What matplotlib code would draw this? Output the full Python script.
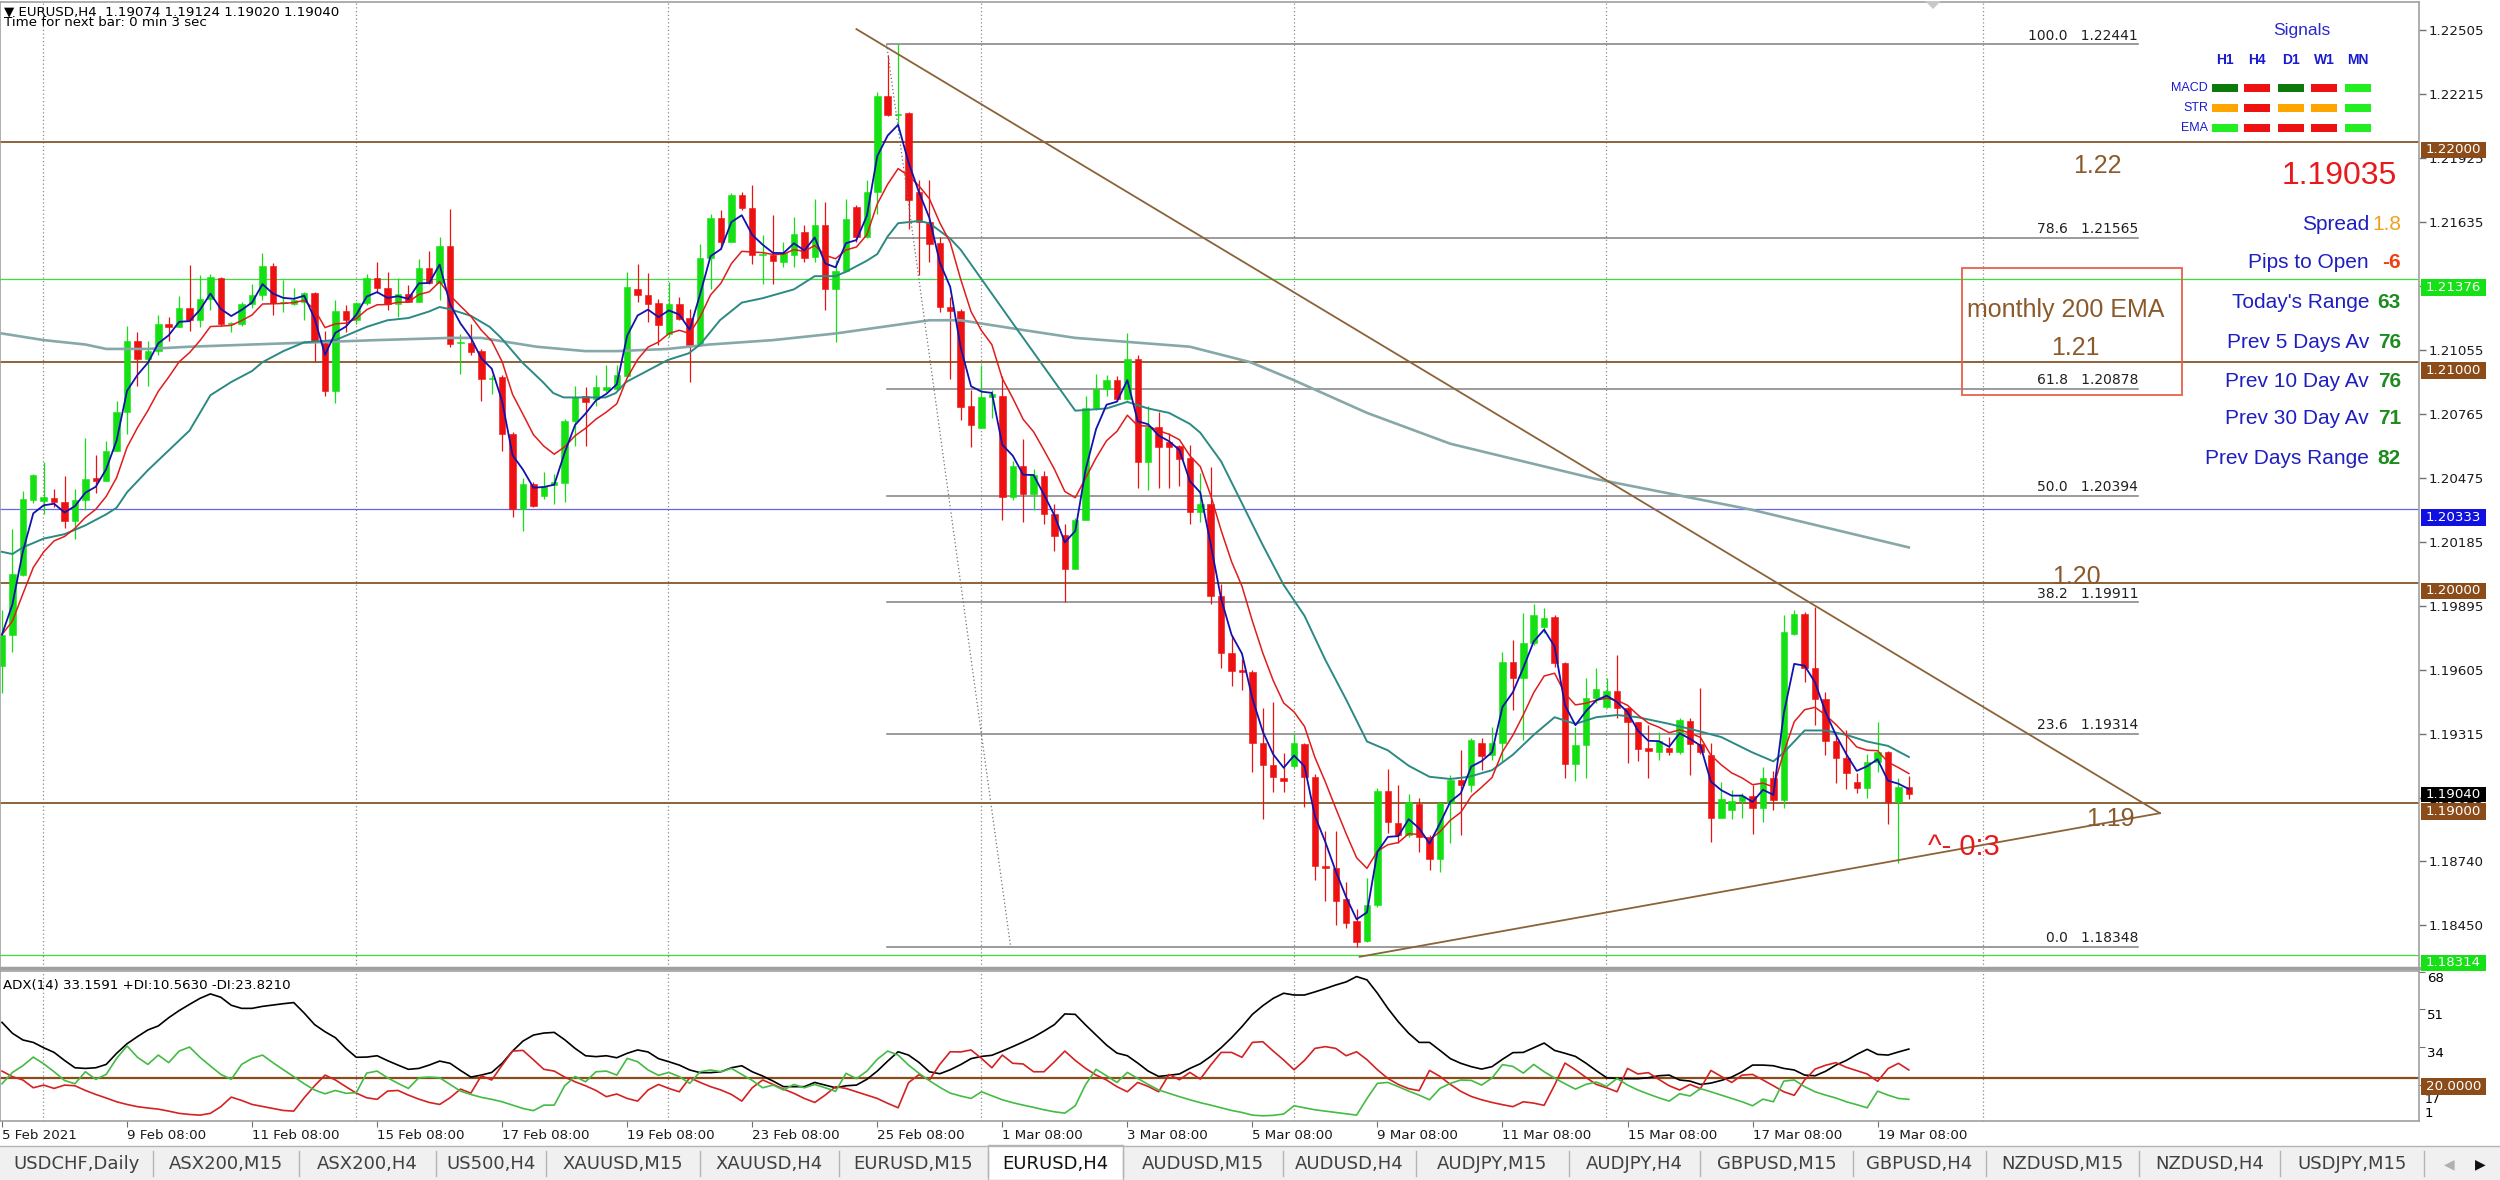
import numpy as np
import pandas as pd
import matplotlib
matplotlib.use("Agg")
import matplotlib.pyplot as plt
import matplotlib.transforms as mtransforms
from matplotlib.patches import Rectangle, Polygon
from matplotlib.lines import Line2D

# ---------------------
# DATA - EURUSD H4 candles (5 Feb 2021 08:00 .. 19 Mar 2021 20:00)
# ---------------------
opens = [
    1.19624, 1.19765, 1.20034, 1.20376, 1.20372, 1.20383, 1.20368, 1.20279, 1.20376, 1.20474,
    1.20462, 1.20595, 1.20775, 1.21095, 1.21014, 1.21052, 1.21174, 1.21158, 1.21244, 1.21189,
    1.21288, 1.21380, 1.21171, 1.21174, 1.21265, 1.21304, 1.21437, 1.21268, 1.21265, 1.21275,
    1.21315, 1.21088, 1.20869, 1.21233, 1.21189, 1.21268, 1.21380, 1.21338, 1.21265, 1.21307,
    1.21275, 1.21427, 1.21361, 1.21526, 1.21088, 1.21088, 1.21049, 1.20924, 1.20932, 1.20674,
    1.20334, 1.20447, 1.20394, 1.20443, 1.20451, 1.20735, 1.20846, 1.20833, 1.20874, 1.20880,
    1.20938, 1.21333, 1.21306, 1.21270, 1.21129, 1.21263, 1.21200, 1.21079, 1.21470, 1.21652,
    1.21545, 1.21758, 1.21700, 1.21488, 1.21488, 1.21455, 1.21485, 1.21589, 1.21477, 1.21624,
    1.21330, 1.21412, 1.21703, 1.21568, 1.21773, 1.22205, 1.22121, 1.22129, 1.21773, 1.21636,
    1.21538, 1.21250, 1.21230, 1.20802, 1.20700, 1.20840, 1.20848, 1.20390, 1.20527, 1.20403,
    1.20483, 1.20310, 1.20218, 1.20060, 1.20286, 1.20792, 1.20880, 1.20917, 1.20835, 1.21015,
    1.20546, 1.20705, 1.20639, 1.20620, 1.20564, 1.20320, 1.20357, 1.19940, 1.19680, 1.19606,
    1.19597, 1.19272, 1.19174, 1.19115, 1.19167, 1.19267, 1.19119, 1.18716, 1.18707, 1.18568,
    1.18466, 1.18375, 1.18537, 1.19054, 1.18911, 1.18855, 1.18996, 1.18846, 1.18748, 1.19000,
    1.19106, 1.19083, 1.19272, 1.19219, 1.19272, 1.19642, 1.19570, 1.19725, 1.19801, 1.19846,
    1.19634, 1.19177, 1.19264, 1.19476, 1.19438, 1.19509, 1.19430, 1.19367, 1.19249, 1.19231,
    1.19252, 1.19231, 1.19373, 1.19267, 1.19220, 1.18935, 1.18970, 1.19010, 1.19035, 1.18980,
    1.19116, 1.19015, 1.19767, 1.19856, 1.19615, 1.19473, 1.19280, 1.19204, 1.19098, 1.19071,
    1.19189, 1.19231, 1.19005, 1.19074,
]
highs = [
    1.19875, 1.20243, 1.20415, 1.20493, 1.20548, 1.20423, 1.20485, 1.20423, 1.20657, 1.20579,
    1.20642, 1.20822, 1.21166, 1.21135, 1.21095, 1.21213, 1.21205, 1.21299, 1.21440, 1.21393,
    1.21401, 1.21385, 1.21182, 1.21275, 1.21354, 1.21495, 1.21448, 1.21374, 1.21338, 1.21318,
    1.21318, 1.21142, 1.21283, 1.21260, 1.21275, 1.21401, 1.21455, 1.21408, 1.21380, 1.21349,
    1.21468, 1.21502, 1.21568, 1.21693, 1.21127, 1.21174, 1.21061, 1.20940, 1.20940, 1.20682,
    1.20477, 1.20455, 1.20500, 1.20493, 1.20743, 1.20894, 1.20886, 1.20940, 1.20985, 1.20985,
    1.21409, 1.21447, 1.21402, 1.21288, 1.21364, 1.21296, 1.21243, 1.21538, 1.21674, 1.21690,
    1.21765, 1.21773, 1.21803, 1.21576, 1.21667, 1.21545, 1.21659, 1.21621, 1.21742, 1.21724,
    1.21462, 1.21742, 1.21712, 1.21826, 1.22227, 1.22394, 1.22441, 1.22136, 1.21826, 1.21826,
    1.21568, 1.21296, 1.21243, 1.20876, 1.20987, 1.20876, 1.20935, 1.20551, 1.20653, 1.20514,
    1.20505, 1.20357, 1.20264, 1.20292, 1.20848, 1.20946, 1.20941, 1.20935, 1.21132, 1.21033,
    1.20802, 1.20774, 1.20681, 1.20624, 1.20624, 1.20496, 1.20524, 1.19995, 1.19764, 1.19652,
    1.19606, 1.19430, 1.19458, 1.19226, 1.19319, 1.19272, 1.19133, 1.18874, 1.18874, 1.18642,
    1.18522, 1.18661, 1.19069, 1.19156, 1.19085, 1.19044, 1.19022, 1.18855, 1.19004, 1.19128,
    1.19242, 1.19295, 1.19295, 1.19347, 1.19687, 1.19740, 1.19861, 1.19902, 1.19884, 1.19853,
    1.19642, 1.19347, 1.19566, 1.19615, 1.19566, 1.19672, 1.19438, 1.19370, 1.19355, 1.19325,
    1.19302, 1.19385, 1.19385, 1.19521, 1.19272, 1.19098, 1.19060, 1.19045, 1.19083, 1.19166,
    1.19147, 1.19853, 1.19876, 1.19869, 1.19891, 1.19506, 1.19317, 1.19332, 1.19136, 1.19222,
    1.19370, 1.19237, 1.19116, 1.19124,
]
lows = [
    1.19500, 1.19687, 1.20031, 1.20360, 1.20313, 1.20344, 1.20250, 1.20196, 1.20329, 1.20407,
    1.20462, 1.20595, 1.20673, 1.20892, 1.20892, 1.21033, 1.21095, 1.21158, 1.21142, 1.21158,
    1.21236, 1.21166, 1.21135, 1.21166, 1.21244, 1.21283, 1.21213, 1.21228, 1.21260, 1.21189,
    1.21002, 1.20845, 1.20814, 1.21135, 1.21174, 1.21260, 1.21315, 1.21236, 1.21205, 1.21272,
    1.21275, 1.21354, 1.21283, 1.21067, 1.20947, 1.21033, 1.20826, 1.20856, 1.20599, 1.20300,
    1.20235, 1.20341, 1.20379, 1.20356, 1.20364, 1.20621, 1.20621, 1.20803, 1.20864, 1.20875,
    1.20932, 1.21273, 1.21182, 1.21076, 1.21114, 1.21189, 1.20909, 1.21076, 1.21333, 1.21515,
    1.21545, 1.21690, 1.21447, 1.21356, 1.21356, 1.21432, 1.21432, 1.21455, 1.21455, 1.21235,
    1.21091, 1.21409, 1.21545, 1.21561, 1.21674, 1.22118, 1.22076, 1.21606, 1.21394, 1.21455,
    1.21227, 1.20924, 1.20737, 1.20616, 1.20700, 1.20746, 1.20283, 1.20375, 1.20273, 1.20330,
    1.20264, 1.20144, 1.19912, 1.20060, 1.20283, 1.20783, 1.20848, 1.20824, 1.20829, 1.20431,
    1.20422, 1.20431, 1.20431, 1.20440, 1.20264, 1.20273, 1.19903, 1.19615, 1.19532, 1.19513,
    1.19143, 1.18930, 1.19050, 1.19050, 1.19161, 1.18985, 1.18651, 1.18559, 1.18448, 1.18433,
    1.18348, 1.18373, 1.18531, 1.18865, 1.18818, 1.18846, 1.18781, 1.18698, 1.18689, 1.18819,
    1.18856, 1.19053, 1.19151, 1.19196, 1.19189, 1.19423, 1.19287, 1.19718, 1.19770, 1.19619,
    1.19113, 1.19101, 1.19113, 1.19453, 1.19430, 1.19385, 1.19181, 1.19192, 1.19113, 1.19196,
    1.19220, 1.19222, 1.19128, 1.19222, 1.18826, 1.18932, 1.18929, 1.18932, 1.18860, 1.18917,
    1.18970, 1.18977, 1.19763, 1.19551, 1.19355, 1.19219, 1.19091, 1.19065, 1.19045, 1.19023,
    1.19143, 1.18905, 1.18730, 1.19020,
]
closes = [
    1.19765, 1.20039, 1.20379, 1.20488, 1.20388, 1.20365, 1.20279, 1.20376, 1.20469, 1.20462,
    1.20595, 1.20775, 1.21095, 1.21014, 1.21052, 1.21174, 1.21158, 1.21244, 1.21189, 1.21288,
    1.21385, 1.21171, 1.21177, 1.21265, 1.21304, 1.21437, 1.21268, 1.21272, 1.21283, 1.21315,
    1.21095, 1.20869, 1.21233, 1.21189, 1.21268, 1.21380, 1.21338, 1.21265, 1.21307, 1.21275,
    1.21427, 1.21361, 1.21526, 1.21083, 1.21088, 1.21045, 1.20924, 1.20924, 1.20674, 1.20334,
    1.20447, 1.20349, 1.20437, 1.20455, 1.20735, 1.20841, 1.20818, 1.20886, 1.20886, 1.20943,
    1.21341, 1.21303, 1.21265, 1.21170, 1.21265, 1.21197, 1.21079, 1.21470, 1.21652, 1.21545,
    1.21758, 1.21697, 1.21488, 1.21488, 1.21458, 1.21494, 1.21583, 1.21474, 1.21624, 1.21330,
    1.21412, 1.21649, 1.21568, 1.21773, 1.22205, 1.22121, 1.22125, 1.21735, 1.21636, 1.21538,
    1.21250, 1.21230, 1.20795, 1.20713, 1.20842, 1.20855, 1.20390, 1.20527, 1.20403, 1.20487,
    1.20310, 1.20212, 1.20060, 1.20286, 1.20792, 1.20880, 1.20917, 1.20835, 1.21015, 1.20546,
    1.20705, 1.20616, 1.20616, 1.20561, 1.20320, 1.20357, 1.19940, 1.19680, 1.19601, 1.19593,
    1.19272, 1.19174, 1.19119, 1.19100, 1.19272, 1.19119, 1.18716, 1.18707, 1.18559, 1.18457,
    1.18373, 1.18537, 1.19054, 1.18915, 1.18855, 1.19004, 1.18846, 1.18748, 1.19000, 1.19106,
    1.19083, 1.19287, 1.19216, 1.19272, 1.19642, 1.19570, 1.19725, 1.19853, 1.19841, 1.19634,
    1.19177, 1.19264, 1.19479, 1.19517, 1.19509, 1.19430, 1.19367, 1.19246, 1.19237, 1.19280,
    1.19231, 1.19378, 1.19267, 1.19231, 1.18935, 1.19020, 1.19010, 1.19035, 1.18977, 1.19116,
    1.19015, 1.19778, 1.19856, 1.19615, 1.19473, 1.19280, 1.19204, 1.19136, 1.19071, 1.19189,
    1.19231, 1.19005, 1.19075, 1.19040,
]

# slower moving averages (bar index, price)
teal_bars = [0, 1, 2, 4, 6, 8, 10, 11, 12, 14, 16, 18, 20, 22, 24, 25, 27, 29, 32, 34,
             35, 37, 39, 41, 42, 43, 45, 46.8, 47.9, 49.9, 51.9, 52.9, 53.9, 57.9, 58.9, 59.9,
             61.9, 63.9, 65.9, 67, 68.9, 71, 73, 76, 78, 80, 81, 83, 84, 85, 86, 88, 89, 91, 92,
             97.4, 103, 106, 108, 110, 112, 114, 115, 117, 119, 121, 123, 125, 127, 129, 131,
             133, 135, 137, 139, 140.8, 143, 145, 147, 149, 151, 153, 155, 157, 160, 162.6,
             165, 168, 170, 171, 173, 174, 175, 177, 179, 181, 183]
teal_vals = [1.2014, 1.2013, 1.2016, 1.2020, 1.2022, 1.2026, 1.2031, 1.2034, 1.2041, 1.2051,
             1.2060, 1.2069, 1.2085, 1.2091, 1.2096, 1.2100, 1.2105, 1.2109, 1.2110, 1.2114,
             1.2116, 1.2119, 1.2120, 1.2123, 1.2125, 1.2124, 1.2121, 1.2116, 1.2111, 1.2100,
             1.2091, 1.2086, 1.2084, 1.2084, 1.2086, 1.2091, 1.2096, 1.2101, 1.2104, 1.2108,
             1.2119, 1.2127, 1.2129, 1.2133, 1.2139, 1.2139, 1.2141, 1.2146, 1.2149, 1.2157,
             1.2163, 1.2164, 1.2163, 1.2156, 1.2151, 1.2115, 1.2078, 1.2079, 1.2082, 1.2079,
             1.2077, 1.2072, 1.2068, 1.2055, 1.2036, 1.2017, 1.1999, 1.1985, 1.1965, 1.1947,
             1.1928, 1.1924, 1.1917, 1.1912, 1.1911, 1.1912, 1.1915, 1.1922, 1.1931, 1.1939,
             1.1936, 1.1939, 1.1940, 1.1939, 1.1936, 1.1933, 1.1930, 1.1923, 1.1919, 1.1923,
             1.1933, 1.1933, 1.1933, 1.1931, 1.1928, 1.1926, 1.1921]
slow_bars = [0, 4, 8, 10, 14, 18, 24, 30, 36, 43, 46, 51.3, 56, 59, 63.9, 67.9, 74, 80, 83,
             86, 89, 92, 97.4, 103, 114, 119.8, 123.9, 131, 139, 153, 168, 183]
slow_vals = [1.2113, 1.2110, 1.2108, 1.2106, 1.2106, 1.2107, 1.2108, 1.2109, 1.2110, 1.2111,
             1.2111, 1.2107, 1.2105, 1.2105, 1.2106, 1.2108, 1.2110, 1.2113, 1.2115, 1.2117,
             1.2119, 1.2119, 1.2115, 1.2111, 1.2107, 1.2100, 1.2092, 1.2077, 1.2063, 1.2047,
             1.2033, 1.2016]

# ADX(14) window
adx = [
    45.2, 40.3, 37.3, 36.2, 33.8, 31.7, 28.1, 24.8, 24.5, 24.8,
    26.3, 31.3, 35.6, 38.8, 41.8, 43.6, 47.3, 50.5, 53.3, 56.0,
    58.0, 56.5, 52.9, 51.5, 51.5, 52.4, 53.0, 53.6, 54.1, 49.4,
    44.2, 41.0, 38.3, 33.5, 29.5, 29.6, 30.2, 28.0, 26.0, 24.1,
    24.5, 26.0, 27.8, 26.8, 23.6, 20.6, 21.5, 22.7, 26.8, 32.3,
    36.8, 39.5, 40.4, 40.7, 37.4, 33.5, 30.2, 29.8, 30.2, 29.3,
    31.3, 32.8, 31.9, 28.9, 27.5, 26.0, 23.8, 22.6, 22.6, 23.0,
    24.8, 25.7, 23.0, 21.1, 18.8, 16.3, 16.3, 16.3, 18.2, 17.0,
    15.8, 16.7, 17.0, 19.6, 23.3, 27.8, 32.0, 30.5, 27.2, 23.0,
    22.1, 23.9, 26.2, 28.9, 29.9, 30.4, 32.3, 34.3, 36.4, 38.6,
    41.3, 44.2, 49.0, 48.8, 44.0, 39.5, 35.0, 31.4, 30.2, 26.9,
    23.3, 20.9, 21.4, 22.0, 24.5, 26.6, 29.9, 33.8, 38.3, 43.3,
    48.8, 52.7, 56.0, 58.3, 57.5, 57.5, 58.9, 60.4, 62.0, 63.4,
    65.8, 64.3, 58.3, 51.5, 45.5, 40.3, 36.2, 36.2, 32.6, 28.9,
    26.8, 25.3, 24.2, 25.3, 28.6, 31.6, 31.7, 33.8, 35.9, 32.6,
    31.3, 29.9, 26.9, 23.5, 20.3, 20.0, 19.9, 19.9, 20.3, 21.2,
    21.5, 19.3, 18.8, 17.3, 17.9, 19.1, 20.6, 23.0, 26.0, 26.0,
    25.7, 24.5, 23.8, 21.5, 21.2, 23.2, 26.0, 28.1, 30.8, 33.1,
    30.8, 30.5, 31.9, 33.2,
]
plus_di = [
    17.6, 22.7, 25.7, 29.6, 26.6, 23.0, 19.1, 17.6, 23.0, 19.6,
    21.8, 29.0, 34.6, 29.5, 26.3, 30.5, 27.1, 32.3, 34.1, 29.5,
    25.6, 21.8, 19.6, 26.3, 29.0, 30.5, 27.1, 23.9, 20.8, 17.6,
    14.8, 13.1, 14.6, 13.3, 13.6, 22.4, 23.3, 20.3, 17.8, 15.5,
    20.3, 20.6, 20.3, 17.3, 14.3, 12.8, 11.5, 10.6, 9.5, 8.0,
    6.5, 5.5, 8.0, 8.0, 16.7, 20.9, 18.5, 23.0, 23.3, 21.5,
    29.0, 27.5, 23.8, 21.4, 22.7, 20.8, 17.8, 23.0, 23.8, 23.0,
    24.5, 21.8, 19.1, 15.8, 17.0, 14.8, 17.3, 15.8, 17.3, 15.8,
    14.2, 22.3, 19.9, 23.3, 28.6, 32.3, 30.5, 26.0, 22.3, 19.0,
    16.0, 13.4, 12.1, 11.0, 14.0, 12.2, 10.4, 9.1, 8.0, 7.0,
    5.9, 5.0, 4.4, 7.7, 17.3, 24.1, 21.2, 18.2, 22.7, 20.0,
    17.3, 14.8, 13.3, 11.8, 10.4, 9.1, 8.0, 6.8, 5.6, 4.7,
    3.5, 3.2, 3.4, 4.0, 7.7, 6.8, 5.9, 5.3, 4.7, 4.1,
    3.5, 11.0, 17.8, 18.2, 16.3, 14.3, 12.5, 10.4, 15.5, 17.8,
    19.3, 19.1, 17.0, 20.2, 26.2, 25.4, 22.4, 26.3, 23.0, 20.2,
    17.6, 15.2, 17.3, 18.4, 16.4, 20.0, 17.0, 14.8, 13.0, 11.3,
    9.8, 13.1, 12.1, 15.4, 14.0, 12.5, 11.0, 9.5, 7.7, 10.7,
    9.5, 18.8, 19.3, 16.3, 14.0, 12.5, 11.2, 9.5, 8.2, 6.8,
    14.3, 12.5, 11.0, 10.6,
]
minus_di = [
    23.3, 20.8, 19.3, 15.8, 17.0, 15.5, 17.0, 16.7, 14.6, 12.8,
    11.2, 9.5, 8.3, 7.3, 6.7, 6.2, 5.3, 4.3, 3.8, 3.5,
    4.3, 7.3, 11.6, 10.1, 8.3, 7.4, 6.5, 5.6, 5.3, 11.3,
    16.7, 21.5, 19.3, 16.3, 13.4, 11.3, 10.6, 14.3, 14.6, 12.5,
    10.7, 9.2, 8.3, 11.3, 15.2, 13.4, 21.2, 19.3, 26.0, 32.3,
    32.6, 28.4, 24.1, 23.3, 20.6, 18.5, 16.7, 14.6, 11.8, 13.0,
    11.0, 9.8, 14.8, 17.3, 15.5, 14.0, 20.3, 18.2, 16.3, 14.8,
    12.8, 9.8, 15.8, 19.3, 17.3, 15.2, 13.3, 11.0, 9.2, 12.5,
    16.3, 15.5, 14.0, 12.5, 11.0, 8.8, 6.8, 18.1, 21.7, 19.3,
    26.3, 32.0, 31.9, 32.8, 29.0, 24.8, 30.5, 26.8, 26.5, 23.0,
    23.0, 27.5, 32.3, 28.1, 24.5, 21.5, 19.3, 16.3, 14.0, 18.2,
    16.4, 14.0, 21.8, 19.4, 22.7, 19.7, 26.0, 31.7, 31.7, 29.5,
    36.2, 36.5, 32.3, 28.3, 23.9, 28.1, 33.5, 34.3, 33.5, 30.2,
    32.0, 28.4, 23.9, 20.0, 17.3, 15.4, 14.5, 23.6, 20.9, 17.3,
    14.2, 11.9, 10.4, 9.2, 8.2, 7.3, 9.5, 8.9, 7.9, 17.0,
    26.9, 23.9, 20.5, 17.3, 15.8, 14.0, 24.5, 22.0, 22.6, 19.6,
    16.7, 14.8, 17.3, 15.4, 23.6, 20.9, 18.2, 21.5, 21.8, 19.3,
    16.7, 14.0, 12.4, 19.3, 24.2, 25.9, 27.1, 25.0, 23.5, 22.0,
    18.7, 24.4, 26.8, 23.8,
]

# drawn objects
brown_levels = [1.22, 1.21, 1.20, 1.19]
green_levels = [1.21376, 1.18314]
blue_level = 1.20333
fib_pct = [100.0, 78.6, 61.8, 50.0, 38.2, 23.6, 0.0]
fib_price = [1.22441, 1.21565, 1.20878, 1.20394, 1.19911, 1.19314, 1.18348]
fib_from, fib_to = 84.9, 205.0
fib_diag_x, fib_diag_y = [84.9, 96.8], [1.22441, 1.18348]
trend_down_x, trend_down_y = [82.0, 207.1], [1.22510, 1.18955]
trend_up_x, trend_up_y = [130.3, 207.1], [1.18304, 1.18955]

price_ticks = [1.22505, 1.22215, 1.21925, 1.21635, 1.21345, 1.21055, 1.20765, 1.20475,
               1.20185, 1.19895, 1.19605, 1.19315, 1.19025, 1.18740, 1.18450]
adx_ticks = [68, 51, 34, 17]
date_bars = [0, 12, 24, 36, 48, 60, 72, 84, 96, 108, 120, 132, 144, 156, 168, 180]
date_labels = ["5 Feb 2021", "9 Feb 08:00", "11 Feb 08:00", "15 Feb 08:00", "17 Feb 08:00",
               "19 Feb 08:00", "23 Feb 08:00", "25 Feb 08:00", "1 Mar 08:00", "3 Mar 08:00",
               "5 Mar 08:00", "9 Mar 08:00", "11 Mar 08:00", "15 Mar 08:00", "17 Mar 08:00",
               "19 Mar 08:00"]
week_grid = [3.95, 33.95, 63.95, 93.95, 123.95, 153.95, 190.1]

signal_rows = ["MACD", "STR", "EMA"]
signal_cols = ["H1", "H4", "D1", "W1", "MN"]
signal_states = [["dg", "r", "dg", "r", "g"],
                 ["o", "r", "o", "o", "g"],
                 ["g", "r", "r", "r", "g"]]
info_labels = ["Spread", "Pips to Open", "Today's Range", "Prev 5 Days Av",
               "Prev 10 Day Av", "Prev 30 Day Av", "Prev Days Range"]
info_values = ["1.8", "-6", "63", "76", "76", "71", "82"]
tabs = ["USDCHF,Daily", "ASX200,M15", "ASX200,H4", "US500,H4", "XAUUSD,M15", "XAUUSD,H4",
        "EURUSD,M15", "EURUSD,H4", "AUDUSD,M15", "AUDUSD,H4", "AUDJPY,M15", "AUDJPY,H4",
        "GBPUSD,M15", "GBPUSD,H4", "NZDUSD,M15", "NZDUSD,H4", "USDJPY,M15"]
active_tab = "EURUSD,H4"

for arr in (opens, highs, lows, closes, adx, plus_di, minus_di):
    assert len(arr) == 184, len(arr)

# ---------------------
# STYLE
# ---------------------
UP = "#14e014"
DN = "#ee1111"
BROWN = "#8c6239"
BROWN_TXT = "#8b5a2b"
BROWN_BOX = "#8b4c1a"
GRID = "#8c8c8c"
BORDER = "#a0a0a0"
INFO_BLUE = "#1f1fc0"
UI = 9.6
ARIAL = "Liberation Sans"
SIG = {"dg": "#0b7a0b", "r": "#ee1111", "o": "#ffa500", "g": "#22ee22"}

W, H = 2500, 1180


def fx(px):
    return px / W


def fy(py):
    return 1 - py / H


fig = plt.figure(figsize=(25, 11.8), dpi=100)
fig.patch.set_facecolor("white")
ax = fig.add_axes([0, fy(968), fx(2419), (968 - 2) / H])
ax2 = fig.add_axes([0, fy(1121), fx(2419), (1121 - 971) / H])

XLIM = (-0.192, 231.96)
ax.set_xlim(*XLIM)
ax.set_ylim(1.18253, 1.22633)
ax2.set_xlim(*XLIM)
ax2.set_ylim(0.86, 68.3)

for a in (ax, ax2):
    for s in a.spines.values():
        s.set_color(BORDER)
        s.set_linewidth(1.2)
ax.spines["bottom"].set_linewidth(2.5)

# ---------------------
# PRICE WINDOW
# ---------------------
for g in week_grid:
    ax.axvline(g, color=GRID, lw=0.9, ls=(0, (1, 2)), zorder=0.5)
    ax2.axvline(g, color=GRID, lw=0.9, ls=(0, (1, 2)), zorder=0.5)

for lv in brown_levels:
    ax.axhline(lv, color=BROWN, lw=1.4, zorder=1)
for lv in green_levels:
    ax.axhline(lv, color="#3ce03c", lw=0.9, zorder=1)
ax.axhline(blue_level, color="#6666e6", lw=0.9, zorder=1)

x = np.arange(len(closes))
o = np.array(opens)
h = np.array(highs)
l = np.array(lows)
c = np.array(closes)
up = c >= o
body_lo = np.minimum(o, c)
body_h = np.maximum(np.abs(c - o), 0.00004)
for mask, col in ((up, UP), (~up, DN)):
    ax.vlines(x[mask], l[mask], h[mask], color=col, lw=0.9, zorder=2)
    ax.bar(x[mask], body_h[mask], bottom=body_lo[mask], width=0.62,
           color=col, edgecolor=col, lw=0.4, zorder=2.2)

close_s = pd.Series(c)
fast_ma = close_s.ewm(span=3, adjust=False).mean()
mid_ma = close_s.ewm(span=8, adjust=False).mean()
ax.plot(slow_bars, slow_vals, color="#86a8a8", lw=1.9, zorder=3)
ax.plot(teal_bars, teal_vals, color="#2b8a84", lw=1.4, zorder=3)
ax.plot(x, mid_ma, color="#e01c1c", lw=1.1, zorder=3.2)
ax.plot(x, fast_ma, color="#1212b0", lw=1.3, zorder=3.4)

# fibonacci retracement
ax.plot(fib_diag_x, fib_diag_y, color="#707070", lw=0.9, ls=(0, (1, 2)), zorder=3)
for pct, lv in zip(fib_pct, fib_price):
    ax.plot([fib_from, fib_to], [lv, lv], color="#808080", lw=1.1, zorder=1.5)
    ax.text(fib_to, lv + 0.00008, f"{pct:.1f}   {lv:.5f}", ha="right", va="bottom",
            fontsize=10, color="#202020", zorder=5)

# triangle
ax.plot(trend_down_x, trend_down_y, color=BROWN, lw=1.3, zorder=3.5)
ax.plot(trend_up_x, trend_up_y, color=BROWN, lw=1.3, zorder=3.5)

# level notes
note = dict(ha="center", va="center", color=BROWN_TXT, fontsize=18, family=ARIAL, zorder=5)
ax.text(201.1, 1.21889, "1.22", **note)
ax.text(198.1, 1.21237, "monthly 200 EMA", **note)
ax.text(199.0, 1.21065, "1.21", **note)
ax.text(199.1, 1.20025, "1.20", **note)
ax.text(202.3, 1.18928, "1.19", **note)
ax.text(188.3, 1.18801, "^- 0:3", ha="center", va="center", color="#e8191a",
        fontsize=21, family=ARIAL, zorder=5)
ax.add_patch(Rectangle((188.1, 1.20851), 21.1, 0.00576, fill=False,
                       edgecolor="#e8604c", lw=1.3, zorder=4))

# price scale
ax.yaxis.tick_right()
ax.set_yticks(price_ticks)
ax.set_yticklabels([f"{t:.5f}" for t in price_ticks])
ax.tick_params(axis="y", length=5, width=1, color="#707070", labelcolor="#1a1a1a",
               labelsize=UI, pad=2)
ax.set_xticks([])

PX_MAIN = 22051.0


def scale_box(axis, y_top, height, text, face):
    trans = mtransforms.blended_transform_factory(axis.transAxes, axis.transData)
    x0, w = 2421 / 2419, 65 / 2419
    axis.add_patch(Rectangle((x0, y_top - height), w, height, transform=trans,
                             facecolor=face, edgecolor="none", clip_on=False, zorder=6))
    axis.text(x0 + w / 2, y_top - height / 2, text, transform=trans, ha="center",
              va="center", color="white", fontsize=UI, clip_on=False, zorder=7)


box_h = 16.5 / PX_MAIN
for lv in brown_levels:
    scale_box(ax, lv, box_h, f"{lv:.5f}", BROWN_BOX)
for lv in green_levels:
    scale_box(ax, lv, box_h, f"{lv:.5f}", "#16e016")
scale_box(ax, blue_level, box_h, f"{blue_level:.5f}", "#1010e0")
scale_box(ax, closes[-1] + 7.5 / PX_MAIN, 15 / PX_MAIN, f"{closes[-1]:.5f}", "#000000")

# ---------------------
# ADX WINDOW
# ---------------------
ax2.axhline(20, color=BROWN_BOX, lw=1.6, zorder=1)
ax2.plot(x, adx, color="black", lw=1.2, zorder=3)
ax2.plot(x, minus_di, color="#d42222", lw=1.2, zorder=3)
ax2.plot(x, plus_di, color="#44bb44", lw=1.2, zorder=3)
ax2.yaxis.tick_right()
ax2.set_yticks(adx_ticks)
# the lowest tick label sits just under the level box, as in the terminal
ax2.set_yticklabels([str(t) for t in adx_ticks[:-1]] + [""])
ax2.tick_params(axis="y", length=4, color="#707070", labelsize=UI, pad=2)
for lbl in ax2.get_yticklabels():
    lbl.set_va("top")
adx_trans = mtransforms.blended_transform_factory(ax2.transAxes, ax2.transData)
ax2.text(1.0025, 10.6, str(adx_ticks[-1]), transform=adx_trans, va="center", ha="left",
         fontsize=UI - 0.6, clip_on=False)
ax2.text(1.0025, 4.2, "1", transform=adx_trans, va="center", ha="left", fontsize=UI,
         clip_on=False)
scale_box(ax2, 20, 16.5 / 2.224, "20.0000", BROWN_BOX)

ax2.set_xticks(date_bars)
ax2.set_xticklabels(date_labels, ha="left")
ax2.tick_params(axis="x", length=4, color="#707070", labelsize=UI, pad=1.5,
                labelcolor="#1a1a1a")

# ---------------------
# HEADER TEXTS
# ---------------------
fig.text(fx(4), fy(12), "\u25bc EURUSD,H4  1.19074 1.19124 1.19020 1.19040",
         fontsize=UI, va="center", ha="left")
fig.text(fx(4), fy(23), "Time for next bar: 0 min 3 sec", fontsize=UI, va="center", ha="left")
fig.text(fx(3), fy(985), "ADX(14) 33.1591 +DI:10.5630 -DI:23.8210", fontsize=UI,
         va="center", ha="left")
fig.add_artist(Polygon([[fx(1925), fy(1)], [fx(1941), fy(1)], [fx(1933), fy(9)]],
                       closed=True, facecolor="#c8c8c8", edgecolor="none",
                       transform=fig.transFigure))

# ---------------------
# SIGNALS PANEL
# ---------------------
fig.text(fx(2302), fy(31), "Signals", ha="center", va="center", color="#2a2ac8",
         fontsize=12.5, family=ARIAL)
col_left = [2212, 2244, 2278, 2311, 2345]
row_y = [88, 108, 128]
for j, name in enumerate(signal_cols):
    fig.text(fx(col_left[j] + 13), fy(60), name, ha="center", va="center",
             color="#1a1ad0", fontsize=10, weight="bold", family=ARIAL)
for i, name in enumerate(signal_rows):
    fig.text(fx(2208), fy(row_y[i]), name, ha="right", va="center", color="#1a1ad0",
             fontsize=9, family=ARIAL)
    for j in range(len(signal_cols)):
        fig.add_artist(Rectangle((fx(col_left[j]), fy(row_y[i] + 4)), 26 / W, 8 / H,
                                 facecolor=SIG[signal_states[i][j]], edgecolor="none",
                                 transform=fig.transFigure))

fig.text(fx(2397), fy(176), f"{1.19035:.5f}", ha="right", va="center", color="#e8191a",
         fontsize=23, family=ARIAL)
value_colors = ["#f0a020", "#f04010", "#1e8c1e", "#1e8c1e", "#1e8c1e", "#1e8c1e", "#1e8c1e"]
value_weights = ["normal", "bold", "bold", "bold", "bold", "bold", "bold"]
info_y = [224, 263, 302, 342, 381, 419, 459]
for lab, val, vc, vw, yy in zip(info_labels, info_values, value_colors, value_weights, info_y):
    fig.text(fx(2369), fy(yy), lab, ha="right", va="center", color=INFO_BLUE,
             fontsize=15, family=ARIAL)
    fig.text(fx(2401), fy(yy), val, ha="right", va="center", color=vc,
             fontsize=15, family=ARIAL, weight=vw)

# ---------------------
# TAB BAR
# ---------------------
tab_edges = [0, 153, 299, 436, 546, 700, 839, 988, 1123, 1283, 1416, 1569, 1700, 1853,
             1986, 2139, 2280, 2424]
fig.add_artist(Rectangle((0, 0), 1, 34 / H, facecolor="#f0f0f0", edgecolor="none",
                         transform=fig.transFigure))
fig.add_artist(Line2D([0, 1], [fy(1146), fy(1146)], color="#b4b4b4", lw=1,
                      transform=fig.transFigure))
for k, name in enumerate(tabs):
    x0, x1 = tab_edges[k], tab_edges[k + 1]
    if name == active_tab:
        fig.add_artist(Rectangle((fx(x0), 0), (x1 - x0) / W, 35 / H, facecolor="white",
                                 edgecolor="#b4b4b4", lw=1, transform=fig.transFigure))
    fig.text(fx((x0 + x1) / 2), fy(1164), name, ha="center", va="center",
             fontsize=13, color="#111111" if name == active_tab else "#404040")
for e in tab_edges[1:]:
    fig.add_artist(Line2D([fx(e), fx(e)], [fy(1176), fy(1151)], color="#b4b4b4", lw=1,
                          transform=fig.transFigure))
fig.text(fx(2449), fy(1164), "\u25c0", ha="center", va="center", fontsize=10, color="#b0b0b0")
fig.text(fx(2480), fy(1164), "\u25b6", ha="center", va="center", fontsize=10, color="#111111")

fig.savefig("out.png", dpi=100)
